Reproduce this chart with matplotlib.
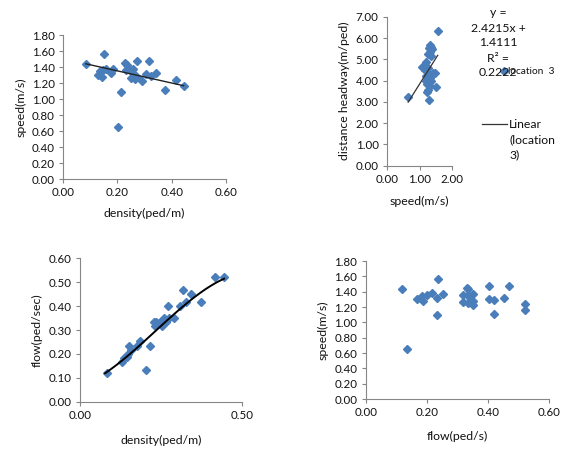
import numpy as np
import matplotlib
matplotlib.use("Agg")
import matplotlib.pyplot as plt
from matplotlib.lines import Line2D

plt.rcParams['font.family'] = ['Lato', 'DejaVu Sans']

# location 3 observations
density = [0.084, 0.151, 0.128, 0.135, 0.145, 0.147, 0.158, 0.176, 0.184, 0.215,
           0.204, 0.229, 0.234, 0.231, 0.246, 0.252, 0.258, 0.257, 0.271, 0.273,
           0.266, 0.289, 0.307, 0.316, 0.325, 0.342, 0.374, 0.417, 0.444]
speed = [1.44, 1.56, 1.30, 1.35, 1.28, 1.36, 1.38, 1.32, 1.37, 1.09,
         0.65, 1.45, 1.43, 1.36, 1.36, 1.26, 1.37, 1.32, 1.48, 1.28,
         1.25, 1.22, 1.31, 1.48, 1.29, 1.32, 1.11, 1.24, 1.16]
flow = [0.12, 0.235, 0.167, 0.183, 0.186, 0.20, 0.218, 0.233, 0.252, 0.234,
        0.134, 0.332, 0.335, 0.317, 0.335, 0.317, 0.352, 0.34, 0.402, 0.35,
        0.333, 0.352, 0.402, 0.467, 0.419, 0.452, 0.419, 0.52, 0.52]

# speed vs distance headway
speed_h = [1.56, 1.31, 1.36, 1.28, 1.31, 1.26, 1.36, 1.21, 1.09, 1.26,
           1.16, 1.41, 1.49, 1.26, 1.19, 1.31, 1.21, 1.36, 1.26, 1.23,
           1.50, 1.26, 1.23, 0.65, 1.28, 1.37, 1.30, 1.24, 1.32]
headway = [6.33, 5.67, 5.60, 5.52, 5.36, 5.23, 5.17, 4.88, 4.65, 4.60,
           4.50, 4.34, 4.37, 4.27, 4.20, 4.12, 4.00, 3.97, 3.90, 3.83,
           3.68, 3.56, 3.48, 3.24, 3.09, 5.50, 4.30, 4.05, 3.75]

# trendlines (as shown in the chart)
lin_slope = 2.4215
lin_icpt = 1.4111
r2_text = "0.2222"
ds_trend = [-0.76, 1.504]                       # density-speed, linear
df_trend = [-4.671, 3.2439, 0.4968, 0.06365]    # density-flow, order 3

blue = '#4a7ebb'
axcol = '#868686'
txtcol = '#111111'
fs = 8.3
ft = 8.8


def style(ax, xt, yt, xlim, ylim, xfmt='{:.2f}'):
    for s in ['top', 'right']:
        ax.spines[s].set_visible(False)
    for s in ['left', 'bottom']:
        ax.spines[s].set_color(axcol)
        ax.spines[s].set_linewidth(0.8)
    ax.set_xlim(xlim)
    ax.set_ylim(ylim)
    ax.set_xticks(xt)
    ax.set_yticks(yt)
    ax.set_xticklabels([xfmt.format(v) for v in xt])
    ax.set_yticklabels(['{:.2f}'.format(v) for v in yt])
    ax.tick_params(direction='out', length=3, width=0.8, color=axcol,
                   labelsize=fs, labelcolor=txtcol, pad=3)


fig = plt.figure(figsize=(5.63, 4.5), dpi=100)
ms = 3.6

# panel 1: density vs speed
ax1 = fig.add_axes([0.1119, 0.6022, 0.2895, 0.32])
ax1.plot(density, speed, 'D', color=blue, ms=ms, mec=blue)
xs = np.array([min(density), max(density)])
ax1.plot(xs, np.polyval(ds_trend, xs), color='#222222', lw=1)
style(ax1, [0, 0.2, 0.4, 0.6], np.arange(0, 1.81, 0.2), (0, 0.6), (0, 1.8))
ax1.set_xlabel('density(ped/m)', fontsize=ft, color=txtcol, labelpad=7)
ax1.set_ylabel('speed(m/s)', fontsize=ft, color=txtcol, labelpad=4)

# panel 2: speed vs headway
ax2 = fig.add_axes([0.6874, 0.6318, 0.1155, 0.331])
ax2.plot(speed_h, headway, 'D', color=blue, ms=ms, mec=blue)
xs = np.array([min(speed_h), max(speed_h)])
ax2.plot(xs, lin_slope * xs + lin_icpt, color='#333333', lw=0.9)
style(ax2, [0, 1, 2], np.arange(0, 7.01, 1), (0, 2), (0, 7))
ax2.set_xlabel('speed(m/s)', fontsize=ft, color=txtcol, labelpad=8)
ax2.set_ylabel('distance headway(m/ped)', fontsize=ft, color=txtcol, labelpad=4)

# trendline label and legend for panel 2
W, H = 563.0, 450.0
eq_lines = ['y =', '{:.4f}x +'.format(lin_slope), '{:.4f}'.format(lin_icpt), 'R\u00b2 =', r2_text]
for i, t in enumerate(eq_lines):
    fig.text(498 / W, 1 - (13 + i * 15) / H, t, ha='center', va='center',
             fontsize=ft, color=txtcol)
fig.add_artist(Line2D([504 / W], [1 - 71 / H], marker='D', color=blue, ms=ms,
                      transform=fig.transFigure))
fig.text(508 / W, 1 - 71 / H, 'location  3', ha='left', va='center',
         fontsize=7.3, color=txtcol)
fig.add_artist(Line2D([482 / W, 507 / W], [1 - 124 / H, 1 - 124 / H],
                      color='#333333', lw=0.9, transform=fig.transFigure))
for i, t in enumerate(['Linear', '(location', '3)']):
    fig.text(509 / W, 1 - (124 + i * 15.5) / H, t, ha='left', va='center',
             fontsize=ft, color=txtcol)

# panel 3: density vs flow
ax3 = fig.add_axes([0.1421, 0.1073, 0.2883, 0.3187])
ax3.plot(density, flow, 'D', color=blue, ms=ms, mec=blue)
xs = np.linspace(min(density) - 0.007, max(density), 100)
ax3.plot(xs, np.polyval(df_trend, xs), color='black', lw=1.4)
style(ax3, [0, 0.5], np.arange(0, 0.61, 0.1), (0, 0.5), (0, 0.6))
ax3.set_xlabel('density(ped/m)', fontsize=ft, color=txtcol, labelpad=10)
ax3.set_ylabel('flow(ped/sec)', fontsize=ft, color=txtcol, labelpad=4)

# panel 4: flow vs speed
ax4 = fig.add_axes([0.6495, 0.1133, 0.3261, 0.3067])
ax4.plot(flow, speed, 'D', color=blue, ms=ms, mec=blue)
style(ax4, [0, 0.2, 0.4, 0.6], np.arange(0, 1.81, 0.2), (0, 0.6), (0, 1.8))
ax4.set_xlabel('flow(ped/s)', fontsize=ft, color=txtcol, labelpad=9)
ax4.set_ylabel('speed(m/s)', fontsize=ft, color=txtcol, labelpad=4)

fig.savefig('out.png', dpi=100)
